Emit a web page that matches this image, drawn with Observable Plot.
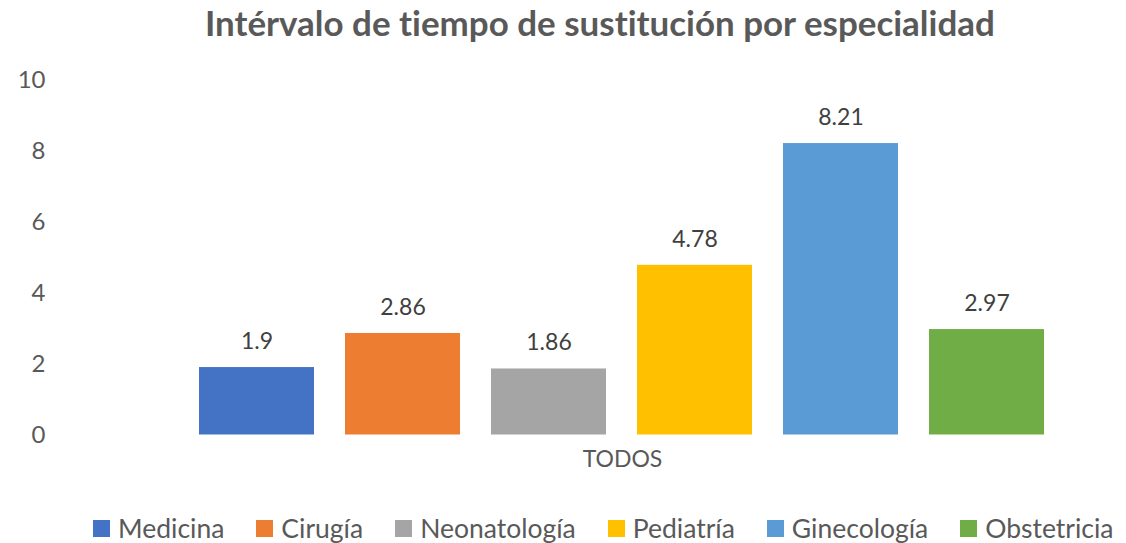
<!DOCTYPE html>
<html>
<head>
<meta charset="utf-8">
<script src="https://cdn.jsdelivr.net/npm/d3@7"></script>
<script src="https://cdn.jsdelivr.net/npm/@observablehq/plot@0.6"></script>
<style>
  html, body { margin: 0; padding: 0; background: #fff; }
  * { font-variant-ligatures: none; }
  body { width: 1126px; height: 543px; overflow: hidden; position: relative; font-family: Lato, sans-serif; }
  #title { position: absolute; left: 205px; white-space: nowrap; font-weight: 700; color: #595959; line-height: normal; font-family: Lato, sans-serif; }
  #chart { position: absolute; left: 0; top: 47px; }
  #legend { position: absolute; left: 93px; top: 512px; white-space: nowrap; }
  .lg-swatches { font-family: Lato, sans-serif !important; font-size: 26.5px !important; color: #595959 !important; margin: 0 !important; min-height: 0 !important; flex-wrap: nowrap !important; }
  .lg-swatch { margin-right: 32px !important; }
  .lg-swatch > svg { margin-right: 8px !important; }
</style>
</head>
<body>
<div id="title"></div>
<div id="chart"></div>
<div id="legend"></div>
<script>
const titleText = "Intérvalo de tiempo de sustitución por especialidad";
const group = "TODOS";
const series = ["Medicina", "Cirugía", "Neonatología", "Pediatría", "Ginecología", "Obstetricia"];
const values = [1.9, 2.86, 1.86, 4.78, 8.21, 2.97];
const colors = ["#4472C4", "#ED7D31", "#A5A5A5", "#FFC000", "#5B9BD5", "#70AD47"];
const yTicks = [0, 2, 4, 6, 8, 10];

const data = series.map((s, i) => ({group, serie: s, value: values[i]}));

// Title: fit width to reference
const ctx = document.createElement("canvas").getContext("2d");
ctx.font = "bold 32px Lato";
const w32 = ctx.measureText(titleText).width;
const tSize = 32 * 792 / w32;
const titleEl = document.getElementById("title");
titleEl.textContent = titleText;
titleEl.style.fontSize = tSize + "px";
titleEl.style.top = (36 - 0.987 * tSize) + "px";

const chart = Plot.plot({
  width: 1126,
  height: 430,
  marginTop: 32.5,
  marginBottom: 42.5,
  marginLeft: 118,
  marginRight: 0,
  style: {fontFamily: "Lato, sans-serif", background: "#fff", fontVariantLigatures: "none"},
  fx: {domain: [group], padding: 0, label: null},
  x: {domain: series, axis: null, paddingInner: 0.21, paddingOuter: 0.54},
  y: {domain: [0, 10]},
  color: {domain: series, range: colors},
  marks: [
    Plot.axisY({ticks: yTicks, tickSize: 0, tickPadding: 73, fontSize: 24, fill: "#595959", label: null}),
    Plot.axisFx({anchor: "bottom", tickSize: 0, tickPadding: 15.5, fontSize: 23, fill: "#595959", label: null}),
    Plot.barY(data, {fx: "group", x: "serie", y: "value", fill: "serie"}),
    Plot.text(data, {fx: "group", x: "serie", y: "value", text: d => String(d.value), dy: -26, fontSize: 23, fill: "#404040"})
  ]
});
document.getElementById("chart").appendChild(chart);

const legend = Plot.legend({
  color: {domain: series, range: colors},
  legend: "swatches",
  swatchSize: 17,
  className: "lg"
});
document.getElementById("legend").appendChild(legend);
</script>
</body>
</html>
